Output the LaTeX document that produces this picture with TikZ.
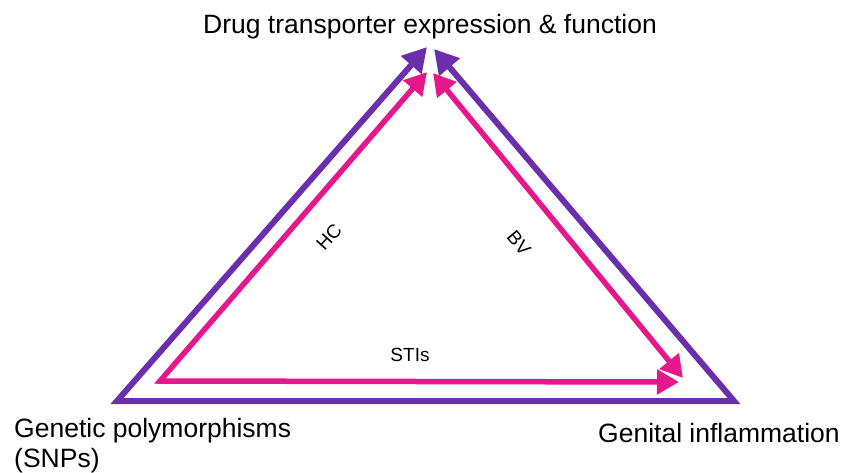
\documentclass[tikz,border=0pt]{standalone}
\usepackage{fontspec}
\setmainfont{Liberation Sans}
\usetikzlibrary{arrows.meta}
\definecolor{purp}{HTML}{6B2FAE}
\definecolor{pnk}{HTML}{E6178C}
\tikzset{
  purpline/.style={draw=purp, line width=6pt, miter limit=10},
  pnkline/.style={draw=pnk, line width=5.5pt, miter limit=10},
  purptip/.style={{Triangle[length=24pt,width=26pt]}-{Triangle[length=24pt,width=26pt]}},
  pnktip/.style={{Triangle[length=22pt,width=24pt]}-{Triangle[length=22pt,width=24pt]}},
  lbl/.style={font=\fontsize{26.5}{30}\selectfont, inner sep=0pt},
  slbl/.style={font=\fontsize{19}{22}\selectfont, inner sep=0pt}
}
\begin{document}
\begin{tikzpicture}[x=1pt,y=-1pt]
\useasboundingbox (0,0) rectangle (844,472);
% coordinates
\coordinate (pTL) at (427,47);
\coordinate (pTR) at (434,49);
\coordinate (pBL) at (117,401);
\coordinate (pBR) at (734,401);
\coordinate (kTL) at (427,72);
\coordinate (kTR) at (433,73);
\coordinate (kBL) at (160,381);
\coordinate (kBR) at (679,382);
\coordinate (kRB) at (683,378);
% purple triangle
\draw[purpline, purptip] (pTL) -- (pBL) -- (pBR) -- (pTR);
% pink
\draw[pnkline, pnktip] (kTL) -- (kBL) -- (kBR);
\draw[pnkline, pnktip] (kTR) -- (kRB);
% labels
\node[lbl, anchor=base] (title) at (430,33) {Drug transporter expression \& function};
\node[lbl, anchor=base west] (gen) at (14,437) {Genetic polymorphisms};
\node[lbl, anchor=base west] (snp) at (14,467) {(SNPs)};
\node[lbl, anchor=base west] (infl) at (598,442) {Genital inflammation};
\node[slbl, rotate=48] (hc) at (329,237) {HC};
\node[slbl, rotate=-50] (bv) at (519,243) {BV};
\node[slbl] (sti) at (410,355) {STIs};
\end{tikzpicture}
\end{document}
